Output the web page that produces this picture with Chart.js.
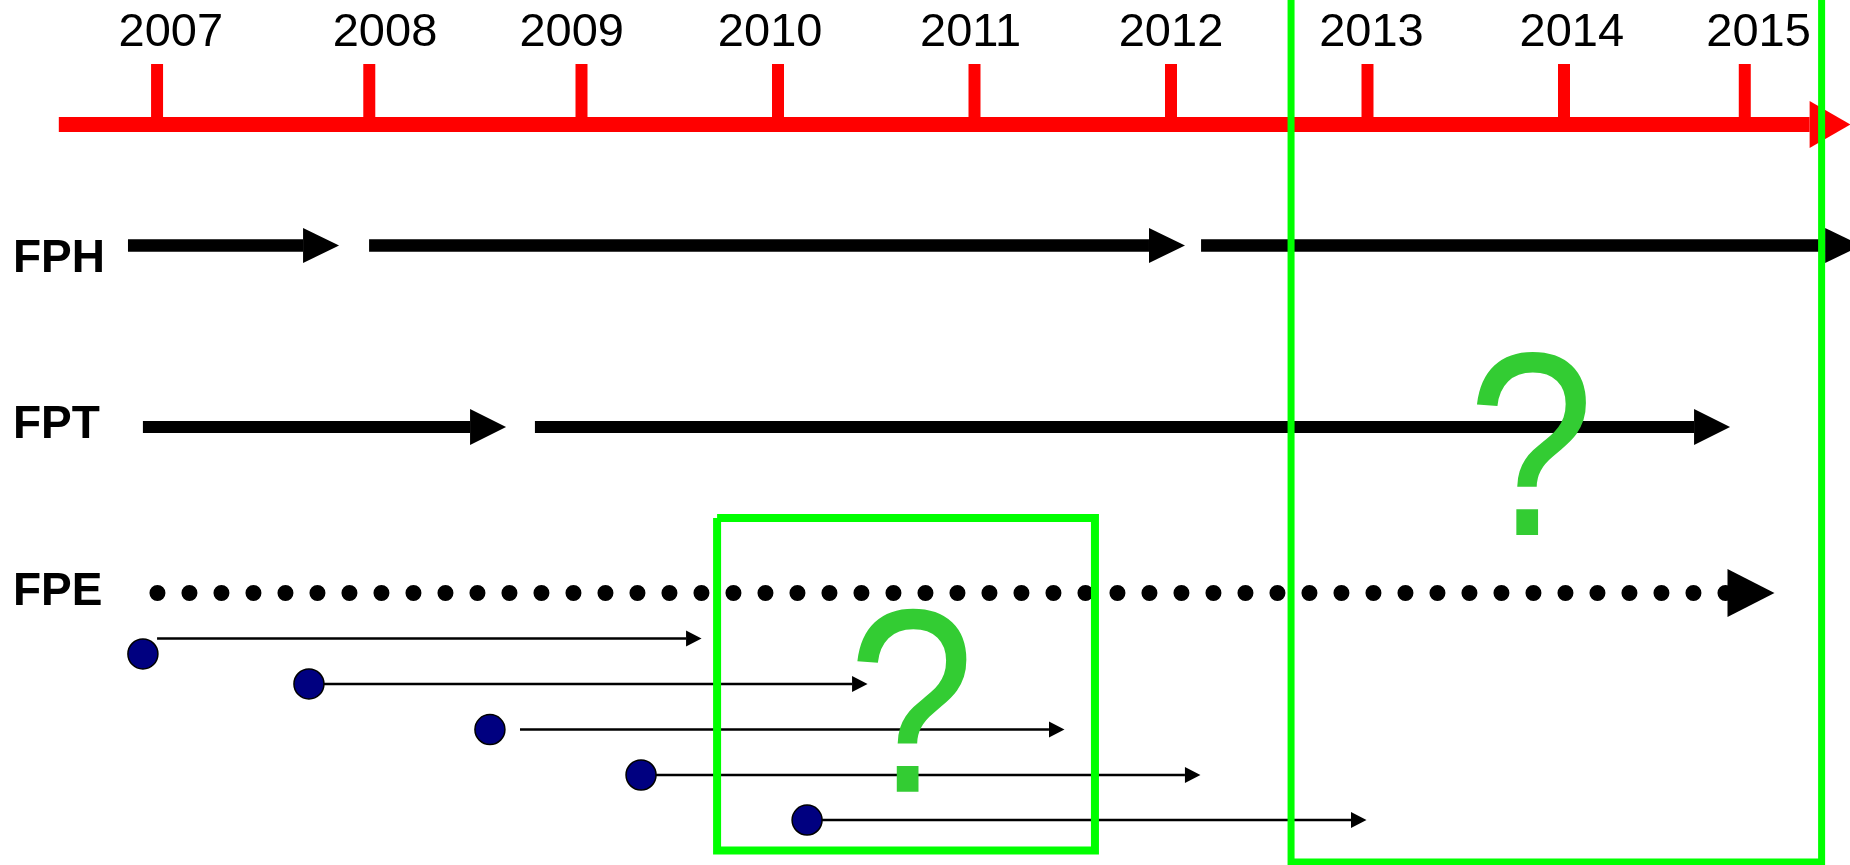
<!DOCTYPE html>
<html>
<head>
<meta charset="utf-8">
<script src="https://cdn.jsdelivr.net/npm/chart.js@4.4.1/dist/chart.umd.min.js"></script>
<style>
  html, body { margin: 0; padding: 0; background: #ffffff; }
  #wrap { position: relative; width: 1850px; height: 865px; }
</style>
</head>
<body>
<div id="wrap"><canvas id="c"></canvas></div>
<script>
// ---------------- data (axis units: x = time in years, y = row level) ----------------
const tickLabels    = ['2007', '2008', '2009', '2010', '2011', '2012', '2013', '2014', '2015'];
const tickPos       = [2006.84, 2007.92, 2009.00, 2010.00, 2011.00, 2012.00, 2013.00, 2014.00, 2014.92];
const tickLabelPos  = [2006.91, 2008.00, 2008.95, 2009.96, 2010.98, 2012.00, 2013.02, 2014.04, 2014.99];

const timeAxisSpan  = [2006.34, 2015.25];
const timeAxisLevel = 2.735;
const tickTopLevel  = 1.406;
const yearLabelLevel = 1.01;

const rowNames       = ['FPH', 'FPT', 'FPE'];
const rowLevels      = [5.393, 9.379, 13.026];
const rowLabelLevels = [5.97, 9.625, 13.285];

const fphSegments = [[2006.692, 2007.583], [2007.919, 2011.888], [2012.153, 2015.329]];
const fptSegments = [[2006.768, 2008.433], [2008.763, 2014.662]];
const fpeSegment  = [2006.842, 2014.832];

const cohortDot       = [2006.768, 2007.613, 2008.534, 2009.303, 2010.148];
const cohortDotLevel  = [14.365, 15.024, 16.024, 17.023, 18.012];
const cohortStart     = [2006.840, 2007.613, 2008.687, 2009.303, 2010.148];
const cohortEnd       = [2009.532, 2010.377, 2011.379, 2012.071, 2012.916];
const cohortLevel     = [14.025, 15.024, 16.024, 17.023, 18.012];

const boxSmallX = [2009.690, 2011.613];
const boxSmallY = [11.378, 18.681];
const boxBigX   = [2012.611, 2015.311];
const boxBigY   = [-0.3, 18.934];

const questionX     = [2010.679, 2013.832];
const questionLevel = [17.390, 11.751];

const xRange = [2006.0407, 2015.4555];
const yRange = [0, 19];

// ---------------- styles ----------------
const RED = '#ff0000', BLACK = '#000000', GREEN = '#00ff00', QGREEN = '#33cc33', NAVY = '#000080';
const FONT = '"Liberation Sans", Arial, sans-serif';

function seg(x0, x1, y) { return [{x: x0, y: y}, {x: x1, y: y}]; }
function box(xs, ys) {
  return [{x: xs[0], y: ys[0]}, {x: xs[1], y: ys[0]}, {x: xs[1], y: ys[1]}, {x: xs[0], y: ys[1]}, {x: xs[0], y: ys[0]}];
}

const datasets = [];
// time axis (bottom layer)
datasets.push({ data: seg(timeAxisSpan[0], timeAxisSpan[1], timeAxisLevel), borderColor: RED, borderWidth: 15,
  arrow: {len: 41, half: 23.5}, order: 5 });
// FPH
fphSegments.forEach(s => datasets.push({ data: seg(s[0], s[1], rowLevels[0]), borderColor: BLACK, borderWidth: 12.5,
  arrow: {len: 36, half: 17.5}, order: 4 }));
// FPT
fptSegments.forEach(s => datasets.push({ data: seg(s[0], s[1], rowLevels[1]), borderColor: BLACK, borderWidth: 12,
  arrow: {len: 36, half: 18}, order: 4 }));
// FPE dotted
datasets.push({ data: seg(fpeSegment[0], fpeSegment[1], rowLevels[2]), borderColor: BLACK, borderWidth: 16,
  borderDash: [0, 32], borderCapStyle: 'round', arrow: {len: 47, half: 24}, order: 4 });
// cohort thin arrows
cohortStart.forEach((s, i) => datasets.push({ data: seg(s, cohortEnd[i], cohortLevel[i]), borderColor: BLACK, borderWidth: 2.5,
  arrow: {len: 15.5, half: 8}, order: 3 }));
// cohort circles
datasets.push({ data: cohortDot.map((x, i) => ({x: x, y: cohortDotLevel[i]})), showLine: false,
  pointRadius: 15, pointBorderWidth: 1.5, pointBackgroundColor: NAVY, pointBorderColor: BLACK, order: 2 });
// green boxes
datasets.push({ data: box(boxSmallX, boxSmallY), borderColor: GREEN, borderWidth: 8, borderJoinStyle: 'miter', order: 1 });
datasets.push({ data: box(boxBigX, boxBigY), borderColor: GREEN, borderWidth: 7, borderJoinStyle: 'miter', order: 1 });

datasets.forEach(d => {
  if (d.showLine === undefined) d.showLine = true;
  if (d.pointRadius === undefined) d.pointRadius = 0;
  if (!d.borderCapStyle) d.borderCapStyle = 'butt';
  d.fill = false;
  d.tension = 0;
  d.clip = false;
});

const timelinePlugin = {
  id: 'timeline',
  beforeDatasetsDraw(chart) {
    const ctx = chart.ctx, xs = chart.scales.x, ys = chart.scales.y;
    ctx.save();
    // tick marks
    ctx.strokeStyle = RED; ctx.lineWidth = 12; ctx.lineCap = 'butt';
    tickPos.forEach(t => {
      const px = xs.getPixelForValue(t);
      ctx.beginPath();
      ctx.moveTo(px, ys.getPixelForValue(tickTopLevel));
      ctx.lineTo(px, ys.getPixelForValue(timeAxisLevel));
      ctx.stroke();
    });
    // year labels
    ctx.fillStyle = BLACK; ctx.font = '47px ' + FONT; ctx.textAlign = 'center'; ctx.textBaseline = 'alphabetic';
    tickLabels.forEach((l, i) => ctx.fillText(l, xs.getPixelForValue(tickLabelPos[i]), ys.getPixelForValue(yearLabelLevel)));
    // row labels
    ctx.font = 'bold 46px ' + FONT; ctx.textAlign = 'left';
    rowNames.forEach((n, i) => ctx.fillText(n, chart.chartArea.left + 13, ys.getPixelForValue(rowLabelLevels[i])));
    ctx.restore();
  },
  afterDatasetDraw(chart, args) {
    const ds = chart.data.datasets[args.index];
    if (!ds.arrow) return;
    const pts = args.meta.data;
    const a = pts[pts.length - 2], b = pts[pts.length - 1];
    const ang = Math.atan2(b.y - a.y, b.x - a.x);
    const ctx = chart.ctx;
    ctx.save();
    ctx.translate(b.x, b.y);
    ctx.rotate(ang);
    ctx.fillStyle = ds.borderColor;
    ctx.beginPath();
    ctx.moveTo(0, -ds.arrow.half);
    ctx.lineTo(ds.arrow.len, 0);
    ctx.lineTo(0, ds.arrow.half);
    ctx.closePath();
    ctx.fill();
    ctx.restore();
  },
  afterDatasetsDraw(chart) {
    const ctx = chart.ctx, xs = chart.scales.x, ys = chart.scales.y;
    questionX.forEach((x, i) => {
      ctx.save();
      ctx.translate(xs.getPixelForValue(x), ys.getPixelForValue(questionLevel[i]));
      ctx.scale(0.87, 1);
      ctx.fillStyle = QGREEN; ctx.font = '262px ' + FONT; ctx.textAlign = 'center'; ctx.textBaseline = 'alphabetic';
      ctx.fillText('?', 0, 0);
      ctx.restore();
    });
  }
};

new Chart(document.getElementById('c'), {
  type: 'scatter',
  data: { datasets: datasets },
  options: {
    responsive: true,
    maintainAspectRatio: false,
    animation: false,
    events: [],
    layout: { padding: 0, autoPadding: false },
    plugins: { legend: { display: false }, tooltip: { enabled: false } },
    scales: {
      x: { type: 'linear', display: false, min: xRange[0], max: xRange[1] },
      y: { type: 'linear', display: false, min: yRange[0], max: yRange[1], reverse: true }
    }
  },
  plugins: [timelinePlugin]
});
</script>
</body>
</html>
